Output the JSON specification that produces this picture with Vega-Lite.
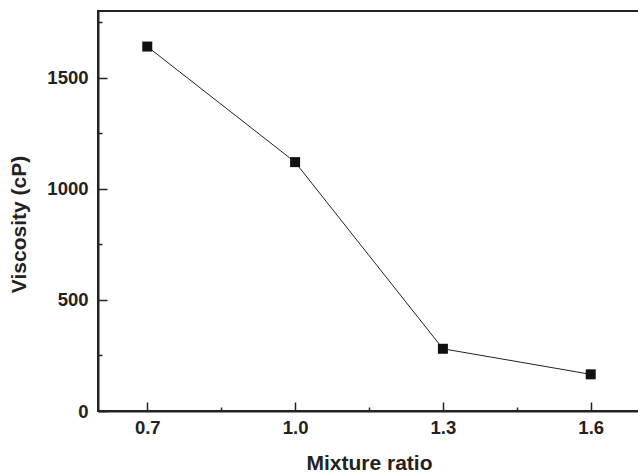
{
  "$schema": "https://vega.github.io/schema/vega-lite/v6.json",
  "width": 542,
  "height": 400,
  "autosize": {"type": "none"},
  "padding": {"left": 98, "top": 11, "right": 0, "bottom": 63},
  "background": "white",
  "config": {
    "view": {"stroke": "#222222", "strokeWidth": 2},
    "font": "Liberation Sans",
    "axis": {
      "domainColor": "#222222",
      "domainWidth": 2,
      "tickColor": "#222222",
      "tickWidth": 1.5,
      "grid": false,
      "labelFont": "Liberation Sans",
      "labelFontSize": 18.5,
      "labelFontWeight": "bold",
      "labelColor": "#222222",
      "titleFont": "Liberation Sans",
      "titleFontSize": 21,
      "titleFontWeight": "bold",
      "titleColor": "#222222"
    }
  },
  "data": {
    "values": [
      {"ratio": 0.7, "viscosity": 1640},
      {"ratio": 1.0, "viscosity": 1120},
      {"ratio": 1.3, "viscosity": 280},
      {"ratio": 1.6, "viscosity": 165}
    ]
  },
  "layer": [
    {
      "mark": {"type": "line", "color": "#222222", "strokeWidth": 1},
      "encoding": {
        "x": {
          "field": "ratio", "type": "quantitative",
          "scale": {"domain": [0.6, 1.7], "nice": false, "zero": false},
          "axis": {
            "title": "Mixture ratio",
            "values": [0.7, 0.85, 1.0, 1.15, 1.3, 1.45, 1.6],
            "labelExpr": "abs(datum.value*10 - round(datum.value*10)) < 0.01 ? format(datum.value, '.1f') : ''",
            "tickSize": {"condition": {"test": "abs(datum.value*10 - round(datum.value*10)) < 0.01", "value": -9}, "value": -4},
            "labelPadding": 16,
            "titlePadding": 16
          }
        },
        "y": {
          "field": "viscosity", "type": "quantitative",
          "scale": {"domain": [0, 1800], "nice": false},
          "axis": {
            "title": "Viscosity (cP)",
            "values": [0, 250, 500, 750, 1000, 1250, 1500, 1750],
            "labelExpr": "datum.value % 500 === 0 ? format(datum.value, 'd') : ''",
            "tickSize": {"condition": {"test": "datum.value % 500 === 0", "value": -9}, "value": -4},
            "labelPadding": 19,
            "titlePadding": 17,
            "titleY": 213
          }
        }
      }
    },
    {
      "mark": {"type": "point", "shape": "square", "filled": true, "color": "#111111", "size": 100, "opacity": 1},
      "encoding": {
        "x": {"field": "ratio", "type": "quantitative"},
        "y": {"field": "viscosity", "type": "quantitative"}
      }
    }
  ]
}
